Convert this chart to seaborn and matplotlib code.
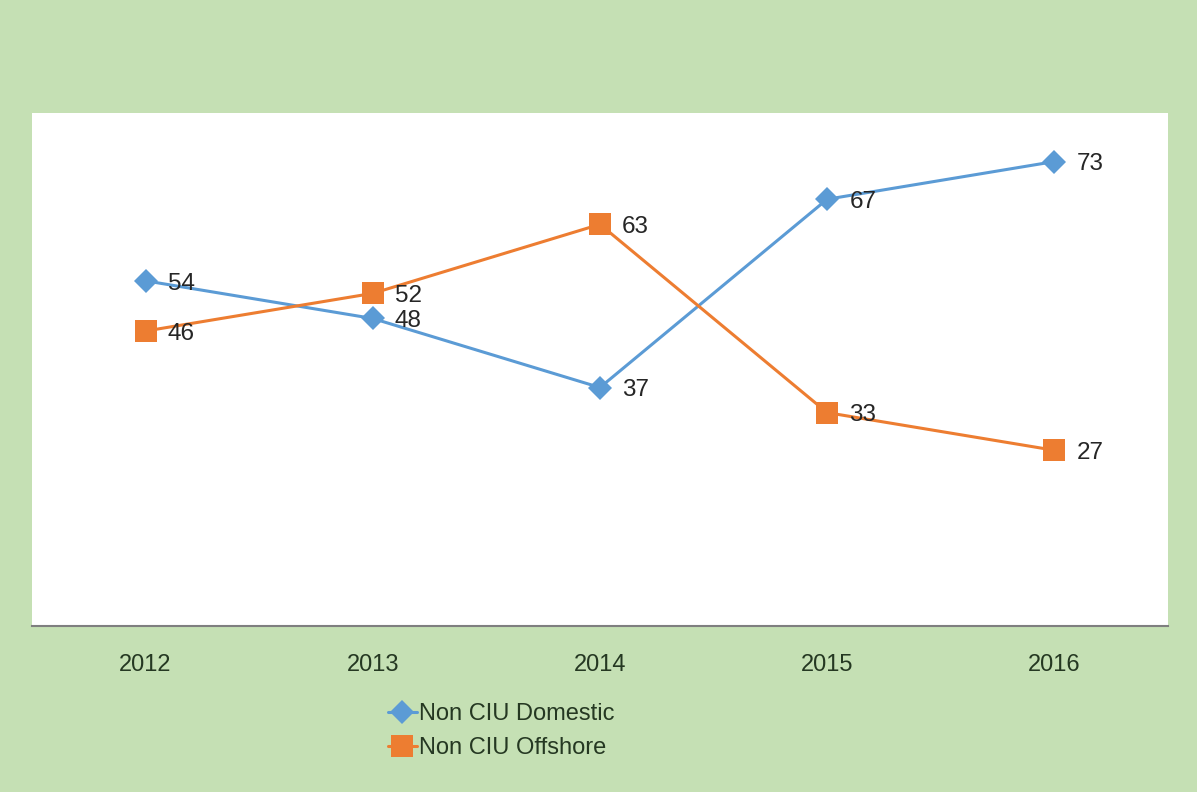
import matplotlib
matplotlib.use("Agg")
import matplotlib.pyplot as plt
import seaborn as sns
import pandas as pd

years = ["2012", "2013", "2014", "2015", "2016"]
domestic = [54, 48, 37, 67, 73]
offshore = [46, 52, 63, 33, 27]
series_names = ["Non CIU Domestic", "Non CIU Offshore"]

BLUE = "#5b9bd5"
ORANGE = "#ed7d31"
GREEN = "#c5e0b4"

sns.set_theme(style="white")
plt.rcParams['font.family'] = ['Liberation Sans', 'DejaVu Sans']

fig = plt.figure(figsize=(11.97, 7.92), dpi=100, facecolor=GREEN)
ax = fig.add_axes([0.0267, 0.2096, 0.949, 0.6474])
ax.set_facecolor("white")

df = pd.DataFrame({
    "idx": list(range(len(years))) * 2,
    "value": domestic + offshore,
    "series": [series_names[0]] * len(years) + [series_names[1]] * len(years),
})

sns.lineplot(data=df[df.series == series_names[0]], x="idx", y="value", ax=ax,
             color=BLUE, marker="D", markersize=12.5, markeredgewidth=0,
             linewidth=2.2, label=series_names[0])
sns.lineplot(data=df[df.series == series_names[1]], x="idx", y="value", ax=ax,
             color=ORANGE, marker="s", markersize=16, markeredgewidth=0,
             linewidth=2.2, label=series_names[1])

for i, v in enumerate(domestic):
    ax.annotate(str(v), (i, v), xytext=(16, -2), textcoords="offset points",
                ha="left", va="center", fontsize=17.5, color="#262626")
for i, v in enumerate(offshore):
    ax.annotate(str(v), (i, v), xytext=(16, -2), textcoords="offset points",
                ha="left", va="center", fontsize=17.5, color="#262626")

ax.set_xlim(-0.5, len(years) - 0.5)
ax.set_ylim(-1, 80.7)
ax.set_xticks(range(len(years)))
ax.set_xticklabels(years, fontsize=17, color="#253822")
ax.set_yticks([])
ax.set_xlabel("")
ax.set_ylabel("")
ax.tick_params(axis="x", length=0, pad=20)
for s in ["top", "left", "right"]:
    ax.spines[s].set_visible(False)
ax.spines["bottom"].set_color("#7f7f7f")
ax.spines["bottom"].set_linewidth(1.5)

ax.get_legend().remove()
handles, labels = ax.get_legend_handles_labels()
leg = fig.legend(handles, labels, loc="upper left", bbox_to_anchor=(0.306, 0.139),
                 frameon=False, fontsize=17, handlelength=1.25, handletextpad=0.1,
                 labelspacing=0.5, labelcolor="#253822")

fig.savefig("out.png", dpi=100, facecolor=GREEN)
